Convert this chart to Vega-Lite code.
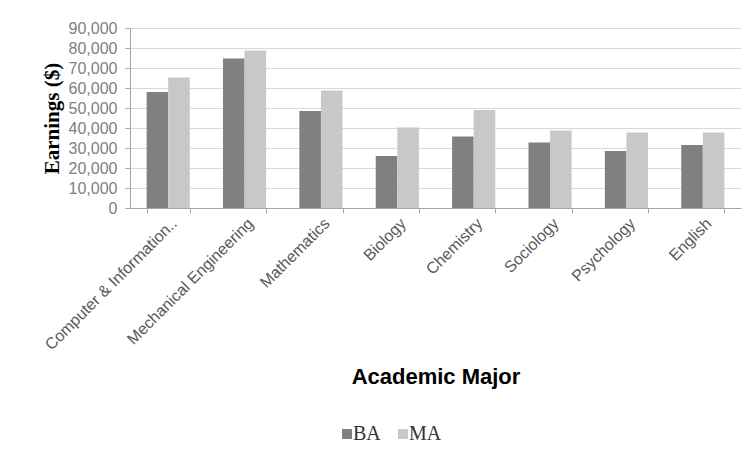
{
  "$schema": "https://vega.github.io/schema/vega-lite/v6.json",
  "width": 611,
  "height": 180,
  "autosize": {"type": "none"},
  "padding": {"left": 130, "top": 28, "right": 10, "bottom": 253},
  "background": "white",
  "data": {
    "values": [
      {"major": "Computer & Information..", "degree": "BA", "earnings": 58000},
      {"major": "Computer & Information..", "degree": "MA", "earnings": 65300},
      {"major": "Mechanical Engineering", "degree": "BA", "earnings": 74800},
      {"major": "Mechanical Engineering", "degree": "MA", "earnings": 78800},
      {"major": "Mathematics", "degree": "BA", "earnings": 48500},
      {"major": "Mathematics", "degree": "MA", "earnings": 58800},
      {"major": "Biology", "degree": "BA", "earnings": 26000},
      {"major": "Biology", "degree": "MA", "earnings": 40200},
      {"major": "Chemistry", "degree": "BA", "earnings": 35700},
      {"major": "Chemistry", "degree": "MA", "earnings": 49000},
      {"major": "Sociology", "degree": "BA", "earnings": 32700},
      {"major": "Sociology", "degree": "MA", "earnings": 38700},
      {"major": "Psychology", "degree": "BA", "earnings": 28500},
      {"major": "Psychology", "degree": "MA", "earnings": 37700},
      {"major": "English", "degree": "BA", "earnings": 31500},
      {"major": "English", "degree": "MA", "earnings": 37700}
    ]
  },
  "mark": {"type": "bar"},
  "encoding": {
    "x": {
      "field": "major",
      "type": "nominal",
      "sort": null,
      "scale": {"paddingInner": 0.435, "paddingOuter": 0.2175},
      "axis": {
        "title": "Academic Major",
        "titleFont": "Liberation Sans",
        "titleFontSize": 22,
        "titleFontWeight": "bold",
        "titleColor": "#000000",
        "titlePadding": 14,
        "labelAngle": -45,
        "labelFont": "Liberation Sans",
        "labelFontSize": 16,
        "labelColor": "#595959",
        "labelPadding": 2,
        "labelLimit": 300,
        "tickBand": "extent",
        "tickSize": 5,
        "tickColor": "#a6a6a6",
        "domainColor": "#a6a6a6",
        "grid": false
      }
    },
    "xOffset": {"field": "degree", "type": "nominal"},
    "y": {
      "field": "earnings",
      "type": "quantitative",
      "scale": {"domain": [0, 90000], "nice": false},
      "axis": {
        "title": "Earnings ($)",
        "titleFont": "Liberation Serif",
        "titleFontSize": 21,
        "titleFontWeight": "bold",
        "titleColor": "#000000",
        "titlePadding": 6,
        "values": [0, 10000, 20000, 30000, 40000, 50000, 60000, 70000, 80000, 90000],
        "format": ",.0f",
        "labelFont": "Liberation Sans",
        "labelFontSize": 16,
        "labelColor": "#808080",
        "labelPadding": 8,
        "tickSize": 5,
        "tickColor": "#a6a6a6",
        "domainColor": "#a6a6a6",
        "gridColor": "#d9d9d9"
      }
    },
    "color": {
      "field": "degree",
      "type": "nominal",
      "scale": {"domain": ["BA", "MA"], "range": ["#808080", "#c8c8c8"]},
      "legend": {
        "orient": "none",
        "legendX": 207,
        "legendY": 396,
        "direction": "horizontal",
        "title": null,
        "symbolType": "square",
        "symbolSize": 100,
        "symbolStrokeWidth": 0,
        "labelFont": "Liberation Serif",
        "labelFontSize": 20,
        "labelColor": "#333333",
        "labelOffset": -4,
        "columnPadding": 12
      }
    }
  },
  "config": {"view": {"stroke": null}}
}
